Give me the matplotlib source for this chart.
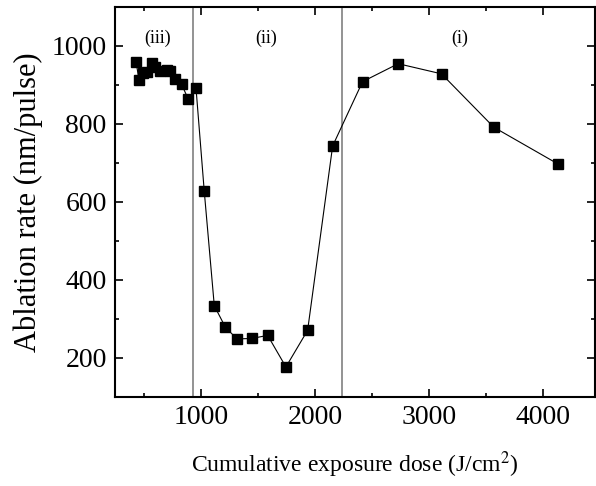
import matplotlib
matplotlib.use("Agg")
import matplotlib.pyplot as plt
from matplotlib.ticker import MultipleLocator

plt.rcParams['font.family'] = ['Liberation Serif', 'DejaVu Serif']
plt.rcParams['mathtext.fontset'] = 'stix'

# Cumulative exposure dose (J/cm^2) and ablation rate (nm/pulse)
dose = [434, 460, 498, 527, 571, 600, 644, 702, 731, 775, 833, 891, 959,
        1031, 1119, 1216, 1317, 1446, 1586, 1746, 1936,
        2155, 2417, 2729, 3108, 3566, 4132]
rate = [959, 912, 929, 933, 955, 946, 936, 938, 936, 916, 901, 863, 891,
        627, 333, 278, 248, 249, 257, 176, 270,
        743, 908, 954, 928, 791, 696]

# Regime boundaries and labels
boundaries = [935, 2234]
region_labels = ["(iii)", "(ii)", "(i)"]
region_label_x = [620, 1570, 3270]

fig = plt.figure(figsize=(5.96, 4.86), dpi=100)
ax = fig.add_axes([0.193, 0.184, 0.805, 0.802])

for b in boundaries:
    ax.axvline(b, color='#808080', lw=1.2, zorder=1)

ax.plot(dose, rate, color='black', lw=0.8, marker='s', markersize=6.5,
        markerfacecolor='black', markeredgecolor='black', zorder=3)

for lab, xl in zip(region_labels, region_label_x):
    ax.text(xl, 1020, lab, ha='center', va='center', fontsize=13)

ax.set_xlim(250, 4450)
ax.set_ylim(100, 1100)
ax.xaxis.set_major_locator(MultipleLocator(1000))
ax.xaxis.set_minor_locator(MultipleLocator(500))
ax.yaxis.set_major_locator(MultipleLocator(200))
ax.yaxis.set_minor_locator(MultipleLocator(100))

ax.tick_params(which='both', direction='in', top=True, right=True,
               labelsize=20, width=1.2)
ax.tick_params(which='major', length=6, pad=6)
ax.tick_params(which='minor', length=3)
for s in ax.spines.values():
    s.set_linewidth(1.5)

ax.set_xlabel(r"Cumulative exposure dose (J/cm$^2$)", fontsize=17, labelpad=14)
ax.set_ylabel("Ablation rate (nm/pulse)", fontsize=22, labelpad=6)

fig.savefig("out.png", dpi=100)
